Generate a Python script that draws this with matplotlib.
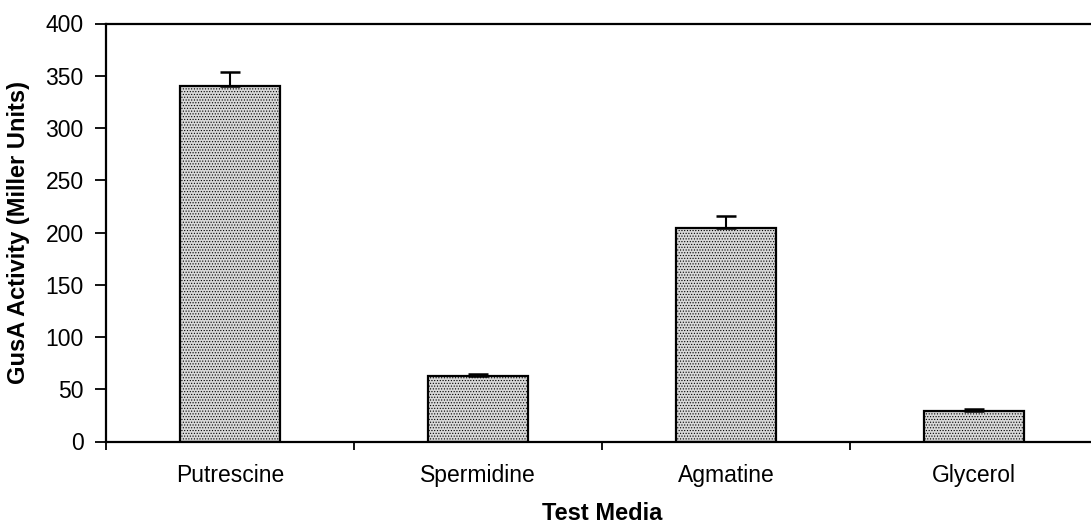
import matplotlib
matplotlib.use("Agg")
import matplotlib.pyplot as plt
import numpy as np

# Data
media = ["Putrescine", "Spermidine", "Agmatine", "Glycerol"]
activity = [340, 63, 204, 29]
activity_err = [14, 1.5, 12, 2]
y_ticks = [0, 50, 100, 150, 200, 250, 300, 350, 400]

plt.rcParams["font.family"] = ["Liberation Sans", "DejaVu Sans"]
plt.rcParams["hatch.color"] = "#c2c2c2"
plt.rcParams["hatch.linewidth"] = 0.5

W, H = 1091, 526
fig = plt.figure(figsize=(W / 100, H / 100), dpi=100)
left, right, bottom, top = 106, 1098, 441.5, 23.5
ax = fig.add_axes([left / W, 1 - bottom / H, (right - left) / W, (bottom - top) / H])

x = np.arange(len(media))
ax.bar(x, activity, width=0.405, color="#d8d8d8", edgecolor="black",
       linewidth=1.6, hatch="......", zorder=2)
lower = np.zeros(len(activity_err))
ax.errorbar(x, activity, yerr=[lower, activity_err], fmt="none",
            ecolor="black", elinewidth=1.5, capsize=7, capthick=1.8, zorder=3)

ax.set_xlim(-0.5, len(media) - 0.5)
ax.set_ylim(0, 400)
ax.set_yticks(y_ticks)
ax.set_yticklabels([str(v) for v in y_ticks], fontsize=16.5)

# category labels centred on bars, tick marks at the category boundaries
ax.set_xticks(x)
ax.set_xticklabels(media, fontsize=16.5)
ax.tick_params(axis="x", length=0, pad=16)
ax.set_xticks(np.arange(-0.5, len(media) + 0.5, 1.0), minor=True)
ax.tick_params(axis="x", which="minor", direction="out", length=6, width=1.3)
ax.tick_params(axis="y", direction="out", length=8, width=1.3, pad=8)

for side in ["left", "bottom", "top"]:
    ax.spines[side].set_linewidth(1.6)
ax.spines["right"].set_visible(False)

ax.set_xlabel("Test Media", fontsize=17, fontweight="bold", labelpad=11)
ax.set_ylabel("GusA Activity (Miller Units)", fontsize=17, fontweight="bold", labelpad=11)

fig.savefig("out.png", dpi=100, facecolor="white")
